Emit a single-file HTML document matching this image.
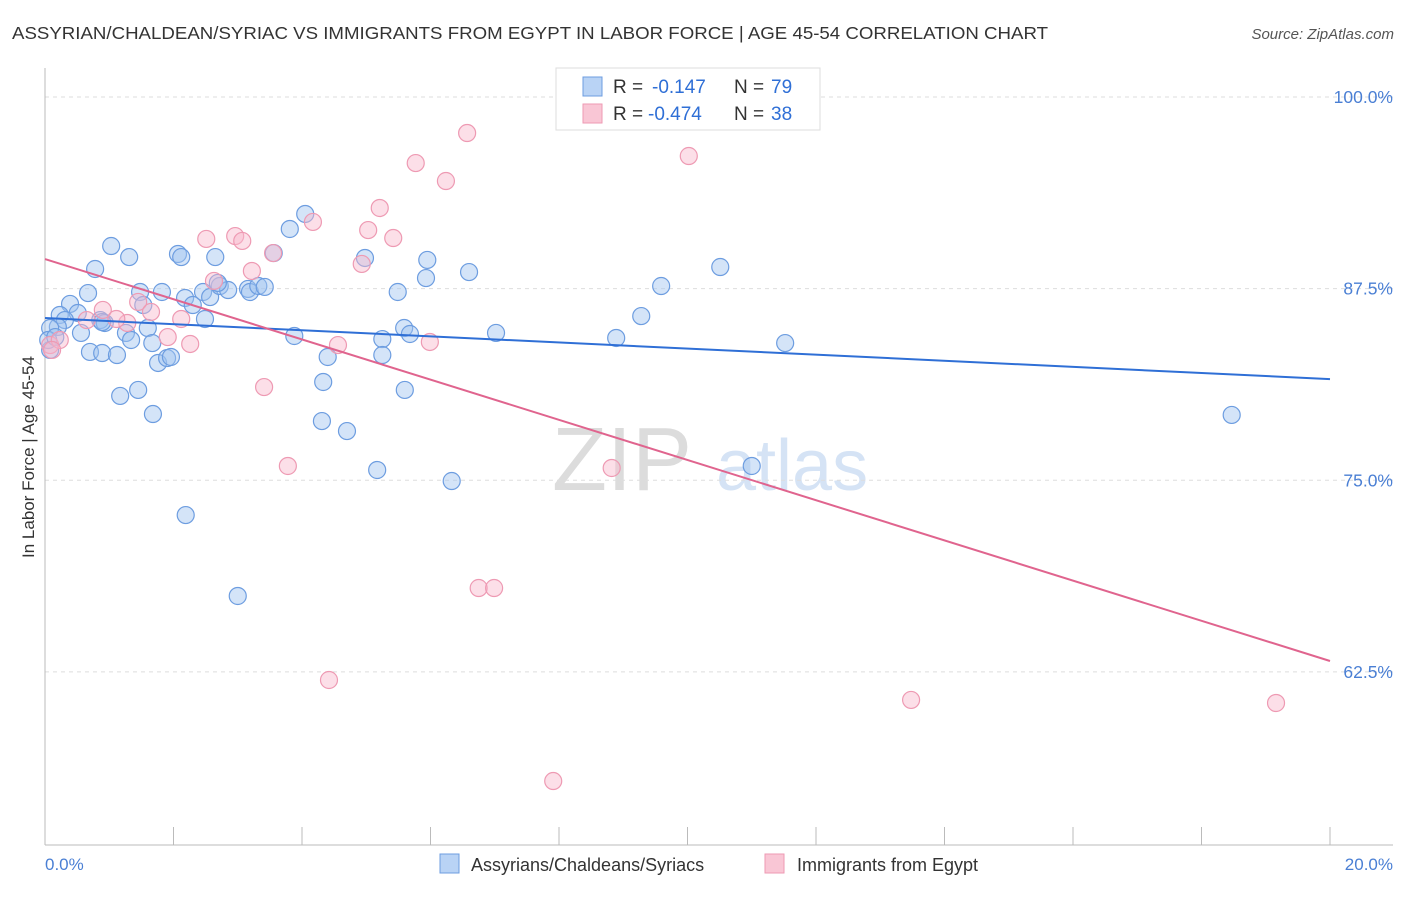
<!DOCTYPE html>
<html><head><meta charset="utf-8"><style>
body{margin:0;background:#fff;font-family:"Liberation Sans",sans-serif;}
svg text{font-family:"Liberation Sans",sans-serif;}
</style></head><body>
<svg id="chart" width="1406" height="892" xmlns="http://www.w3.org/2000/svg">
<text x="12" y="39" font-size="17.5" fill="#333" textLength="1036" lengthAdjust="spacingAndGlyphs">ASSYRIAN/CHALDEAN/SYRIAC VS IMMIGRANTS FROM EGYPT IN LABOR FORCE | AGE 45-54 CORRELATION CHART</text>
<text x="1394" y="39" font-size="15" fill="#555" font-style="italic" text-anchor="end">Source: ZipAtlas.com</text>
<g>
<text x="552" y="490" font-size="90" fill="#dcdcdc" font-family="Liberation Serif, serif">ZIP</text>
<text x="716" y="490" font-size="72" fill="#d5e3f5">atlas</text>
</g>
<g id="grid"></g>
<g id="axes"></g>
<g id="pts"></g>
<g id="lines"></g>
<text transform="translate(34,457) rotate(-90)" font-size="17" fill="#333" text-anchor="middle">In Labor Force | Age 45-54</text>
<text x="45" y="870" font-size="17" fill="#4a7fd4">0.0%</text>
<text x="1393" y="870" font-size="17" fill="#4a7fd4" text-anchor="end">20.0%</text>
<g>
<rect x="556" y="68" width="264" height="62" fill="#fff" stroke="#ddd"/>
<rect x="583" y="77" width="19" height="19" fill="#b9d3f5" stroke="#6d9de0"/>
<rect x="583" y="104" width="19" height="19" fill="#f9c6d5" stroke="#ee9ab3"/>
<text x="613" y="93" font-size="19" fill="#333">R =</text>
<text x="652" y="93" font-size="19" fill="#2f6fd6">-0.147</text>
<text x="734" y="93" font-size="19" fill="#333">N =</text>
<text x="771" y="93" font-size="19" fill="#2f6fd6">79</text>
<text x="613" y="120" font-size="19" fill="#333">R =</text>
<text x="648" y="120" font-size="19" fill="#2f6fd6">-0.474</text>
<text x="734" y="120" font-size="19" fill="#333">N =</text>
<text x="771" y="120" font-size="19" fill="#2f6fd6">38</text>
</g>
<g>
<rect x="440" y="854" width="19" height="19" fill="#b9d3f5" stroke="#6d9de0"/>
<text x="471" y="871" font-size="18" fill="#333">Assyrians/Chaldeans/Syriacs</text>
<rect x="765" y="854" width="19" height="19" fill="#f9c6d5" stroke="#ee9ab3"/>
<text x="797" y="871" font-size="18" fill="#333">Immigrants from Egypt</text>
</g>
</svg>
<script>
const blueX=[1.03,1.31,0.78,2.07,2.12,2.65,0.67,0.39,1.48,1.82,2.18,2.30,2.46,2.57,2.72,2.85,3.16,3.19,3.32,3.42,3.56,3.81,4.05,4.98,5.95,5.93,5.49,6.60,0.23,0.51,0.31,0.20,0.08,0.86,0.93,0.56,1.26,1.34,1.60,1.67,2.49,0.70,0.89,1.12,1.76,1.90,1.96,1.45,1.17,1.68,3.88,4.40,4.33,4.31,4.70,5.25,5.25,5.59,5.68,5.60,5.17,6.33,7.02,8.89,9.28,9.59,10.51,11.52,18.47,11.00,2.19,3.00,0.08,0.05,0.16,1.53,2.69,0.89];
const blueY=[90.28,89.56,88.78,89.76,89.56,89.56,87.21,86.50,87.28,87.28,86.89,86.43,87.28,86.95,87.67,87.41,87.48,87.28,87.67,87.61,89.82,91.39,92.37,89.50,89.37,88.19,87.28,88.58,85.78,85.91,85.45,85.00,84.93,85.45,85.26,84.61,84.61,84.15,84.93,83.95,85.52,83.37,83.30,83.17,82.65,82.97,83.04,80.89,80.50,79.32,84.41,83.04,81.41,78.86,78.21,84.21,83.17,84.93,84.54,80.89,75.67,74.95,84.61,84.28,85.71,87.67,88.91,83.95,79.26,75.93,72.73,67.45,83.50,84.15,84.34,86.43,87.87,85.32];
const pinkX=[6.57,5.77,6.24,5.21,4.17,5.03,5.42,2.51,2.96,3.07,3.55,3.22,4.93,2.63,1.45,0.90,1.65,2.12,0.65,1.28,1.11,1.91,2.26,4.56,5.99,3.41,3.78,8.82,6.75,6.99,4.42,7.91,13.48,19.16,10.02,0.08,0.23,0.11];
const pinkY=[97.65,95.69,94.52,92.76,91.85,91.32,90.80,90.74,90.93,90.61,89.82,88.65,89.11,88.00,86.63,86.11,85.98,85.52,85.45,85.26,85.52,84.34,83.89,83.82,84.02,81.08,75.93,75.80,67.97,67.97,61.97,55.38,60.67,60.47,96.15,83.82,84.15,83.50];
const blueTrend=[85.58,81.60];
const pinkTrend=[89.43,63.21];
const yTicks=[100,87.5,75,62.5];
const yTickLabels=["100.0%","87.5%","75.0%","62.5%"];
const xTicks=[0,2,4,6,8,10,12,14,16,18,20];

const NS="http://www.w3.org/2000/svg";
const sx=v=>45+v/20*1285;
const sy=v=>97+(100-v)*15.33;
function mk(tag,attrs,parent){const e=document.createElementNS(NS,tag);for(const k in attrs)e.setAttribute(k,attrs[k]);document.getElementById(parent).appendChild(e);return e;}
yTicks.forEach((t,i)=>{
  const g=mk('line',{x1:45,x2:1393,y1:sy(t),y2:sy(t),stroke:'#ddd','stroke-dasharray':'4,4'},'grid');
  
  
  const l=mk('text',{x:1393,y:sy(t)+6,'font-size':17.5,fill:'#4a7fd4','text-anchor':'end'},'grid');
  l.textContent=yTickLabels[i];
  
  
});
const ax=mk('line',{x1:45,x2:45,y1:68,y2:845,stroke:'#bbb'},'axes');


const bx=mk('line',{x1:45,x2:1393,y1:845,y2:845,stroke:'#bbb'},'axes');


xTicks.forEach(t=>{
  const k=mk('line',{x1:sx(t),x2:sx(t),y1:827,y2:845,stroke:'#bbb'},'axes');
  
  
});
blueX.forEach((v,i)=>{
  const c=mk('circle',{cx:sx(v),cy:sy(blueY[i]),r:8.5,fill:'rgba(160,196,240,0.45)',stroke:'#6d9de0','stroke-width':1.2},'pts');
  
  
});
pinkX.forEach((v,i)=>{
  const c=mk('circle',{cx:sx(v),cy:sy(pinkY[i]),r:8.5,fill:'rgba(248,185,205,0.45)',stroke:'#ee9ab3','stroke-width':1.2},'pts');
  
  
});
const bl=mk('line',{x1:sx(0),x2:sx(20),y1:sy(blueTrend[0]),y2:sy(blueTrend[1]),stroke:'#2f6fd6','stroke-width':2},'lines');


const pl=mk('line',{x1:sx(0),x2:sx(20),y1:sy(pinkTrend[0]),y2:sy(pinkTrend[1]),stroke:'#e0648e','stroke-width':2},'lines');


</script>
</body></html>
